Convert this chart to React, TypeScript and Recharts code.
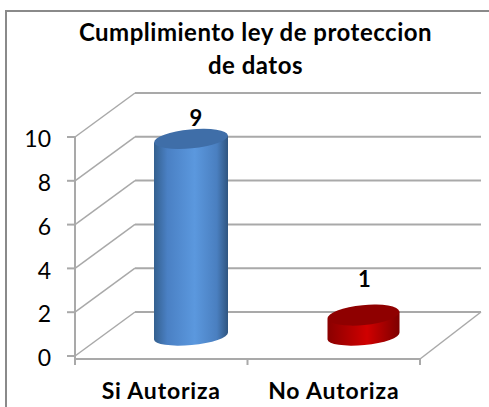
import { BarChart, Bar, XAxis, YAxis, CartesianGrid, Cell, LabelList } from "recharts";

const categories = ["Si Autoriza", "No Autoriza"];
const values = [9, 1];
const yTicks = [0, 2, 4, 6, 8, 10];
const titleLines = ["Cumplimiento ley de proteccion", "de datos"];

const rows = categories.map((name, i) => ({ name, value: values[i] }));

const FONT = "Lato, 'Open Sans', sans-serif";
const GRID = "#a9a9a9";
const AXIS_BOTTOM = 359;
// fake 3d: how far the back wall sits from the front plane
const DEPTH_X = 60;
const DEPTH_Y = -44;
const BAND = 172.5;
// the data labels were moved by hand in the original
const labelShift = [
  { dx: 35, dy: -41 },
  { dx: 31, dy: -56 },
];

const wallLine = (p: any) => {
  const { x1, x2, y1 } = p;
  // the grid also hands over the plot edge under the zero line, skip it
  if (y1 > 357) return <g key="edge" />;
  const backY = y1 + DEPTH_Y;
  const backX = x1 + DEPTH_X;
  const isFloor = y1 > 355;
  return (
    <g key={p.key ?? y1}>
      <line x1={x1} y1={y1} x2={backX} y2={backY} stroke={GRID} strokeWidth={1.5} />
      <line x1={backX} y1={backY} x2={x2 + DEPTH_X + 1} y2={backY} stroke={GRID} strokeWidth={2} />
      {isFloor && (
        <line x1={x2} y1={AXIS_BOTTOM} x2={x2 + DEPTH_X + 1} y2={backY} stroke={GRID} strokeWidth={1.5} />
      )}
    </g>
  );
};

const Cylinder = (p: any) => {
  const { x, y, width, height, index } = p;
  const left = x + DEPTH_X / 2 + (index === 0 ? 0 : 1);
  const right = left + width - (index === 0 ? 0 : 2);
  const cx = (left + right) / 2;
  const rx = (right - left) / 2;
  const ry = index === 0 ? 9.5 : 10;
  const topY = y + DEPTH_Y / 2 + (index === 0 ? 2 : 3);
  const baseY = y + height + DEPTH_Y / 2 + 2;
  const tilt = 3.5;
  const body = `M${left} ${topY + tilt} L${left} ${baseY + tilt} A${rx} ${9} -5.5 0 0 ${right} ${baseY - tilt} L${right} ${topY - tilt} Z`;
  const ids = index === 0 ? ["bodyBlue", "#3f6ea8"] : ["bodyRed", "#8f0000"];
  return (
    <g>
      <path d={body} fill={`url(#${ids[0]})`} />
      <ellipse cx={cx} cy={topY} rx={rx} ry={ry} fill={ids[1]} transform={`rotate(-5.5 ${cx} ${topY})`} />
    </g>
  );
};

const BarLabel = (p: any) => {
  const { x, y, width, index, value } = p;
  const s = labelShift[index];
  return (
    <text
      x={x + width / 2 + s.dx}
      y={y + s.dy}
      textAnchor="middle"
      dominantBaseline="central"
      fontFamily={FONT}
      fontWeight={700}
      fontSize={22}
      fill="#000"
    >
      {value}
    </text>
  );
};

const CategoryTick = (p: any) => {
  const { x, y, payload, index } = p;
  const isLast = index === categories.length - 1;
  return (
    <g>
      <line x1={x - BAND / 2} y1={AXIS_BOTTOM} x2={x - BAND / 2} y2={AXIS_BOTTOM + 6} stroke={GRID} strokeWidth={2} />
      {isLast && (
        <line x1={x + BAND / 2} y1={AXIS_BOTTOM} x2={x + BAND / 2} y2={AXIS_BOTTOM + 6} stroke={GRID} strokeWidth={2} />
      )}
      <text
        x={x}
        y={y + 23}
        textAnchor="middle"
        dominantBaseline="central"
        fontFamily={FONT}
        fontWeight={700}
        fontSize={23}
        letterSpacing={0.8}
        fill="#000"
      >
        {payload.value}
      </text>
    </g>
  );
};

export default function App() {
  return (
    <div style={{ position: "absolute", left: 0, top: 0, width: 489, height: 407, overflow: "hidden", background: "#fff" }}>
      <div style={{ position: "absolute", left: 5, top: 10, right: 0, bottom: 0, borderLeft: "2px solid #8a8a8a", borderTop: "2px solid #8a8a8a" }} />
      <div
        style={{
          position: "absolute",
          left: 0,
          width: 511,
          top: 15,
          textAlign: "center",
          fontFamily: FONT,
          fontWeight: 700,
          fontSize: 24,
          letterSpacing: 0.5,
          lineHeight: "33px",
          color: "#000",
        }}
      >
        {titleLines.map((t) => (
          <div key={t}>{t}</div>
        ))}
      </div>
      <BarChart
        width={489}
        height={407}
        data={rows}
        margin={{ top: 137, right: 69, bottom: 0, left: 0 }}
        style={{ position: "absolute", left: 0, top: 0 }}
      >
        <defs>
          <linearGradient id="bodyBlue" x1="0" y1="0" x2="1" y2="0">
            <stop offset="0" stopColor="#34608f" />
            <stop offset="0.18" stopColor="#4a80c4" />
            <stop offset="0.55" stopColor="#5b98de" />
            <stop offset="0.85" stopColor="#4a7fc0" />
            <stop offset="1" stopColor="#2f5580" />
          </linearGradient>
          <linearGradient id="bodyRed" x1="0" y1="0" x2="1" y2="0">
            <stop offset="0" stopColor="#8a0000" />
            <stop offset="0.55" stopColor="#d00000" />
            <stop offset="1" stopColor="#7d0000" />
          </linearGradient>
        </defs>
        <CartesianGrid vertical={false} horizontal={wallLine} />
        <XAxis
          dataKey="name"
          height={48}
          axisLine={{ stroke: GRID, strokeWidth: 2 }}
          tickLine={false}
          tick={CategoryTick}
          interval={0}
        />
        <YAxis
          width={75}
          domain={[0, 10]}
          ticks={yTicks}
          padding={{ top: 0, bottom: 3 }}
          axisLine={{ stroke: GRID, strokeWidth: 2 }}
          tickLine={{ stroke: GRID, strokeWidth: 2 }}
          tickSize={8}
          tickMargin={16}
          tick={{ fontFamily: FONT, fontSize: 23, fill: "#000", dy: 2 }}
        />
        <Bar dataKey="value" barSize={74} shape={Cylinder} isAnimationActive={false}>
          {rows.map((r) => (
            <Cell key={r.name} />
          ))}
          <LabelList dataKey="value" content={BarLabel} />
        </Bar>
      </BarChart>
    </div>
  );
}
